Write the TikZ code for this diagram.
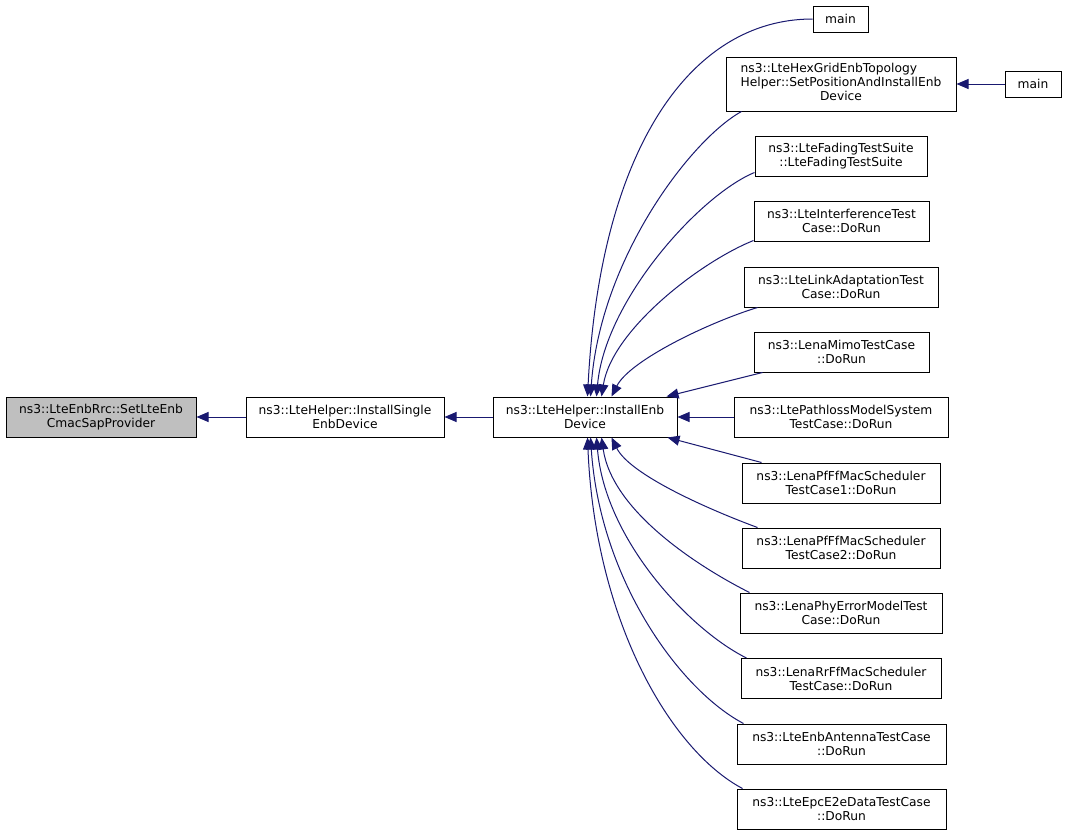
\documentclass[tikz,border=0pt]{standalone}
\usepackage{fontspec}
\setmainfont{DejaVu Sans}
\usetikzlibrary{arrows.meta,calc}
\definecolor{edgeblue}{HTML}{191970}
\definecolor{hl}{HTML}{BFBFBF}
\tikzset{
  box/.style={draw=black, line width=0.75pt, fill=white, inner sep=0pt, align=center,
    font=\fontsize{9.2pt}{10.5pt}\selectfont},
  edge/.style={draw=edgeblue, line width=0.75pt, arrows={Triangle[length=9pt,width=7.5pt]-}},
}
\begin{document}
\begin{tikzpicture}[x=0.75pt,y=-0.75pt]
\useasboundingbox (0,0) rectangle (1067,835);
\fill[white] (0,0) rectangle (1067,835);
\node[box, fill=hl, minimum width=142.5pt, minimum height=30pt] (A) at (101,417) {ns3::LteEnbRrc::SetLteEnb\\CmacSapProvider};
\node[box, minimum width=148.5pt, minimum height=30pt] (B) at (345,417) {ns3::LteHelper::InstallSingle\\EnbDevice};
\node[box, minimum width=138pt, minimum height=30pt] (C) at (585,417) {ns3::LteHelper::InstallEnb\\Device};
\node[box, minimum width=41.25pt, minimum height=19.5pt] (m1) at (840.5,19) {main};
\node[box, minimum width=172.5pt, minimum height=40.5pt] (hex) at (841,84) {\begin{tabular}{@{}l@{}}ns3::LteHexGridEnbTopology\\Helper::SetPositionAndInstallEnb\\\multicolumn{1}{@{}c@{}}{Device}\end{tabular}};
\node[box, minimum width=42pt, minimum height=19.5pt] (m2) at (1033,84) {main};
\node[box, minimum width=129pt, minimum height=30pt] (fad) at (841,156) {ns3::LteFadingTestSuite\\::LteFadingTestSuite};
\node[box, minimum width=131.25pt, minimum height=30pt] (intf) at (841.5,221) {ns3::LteInterferenceTest\\Case::DoRun};
\node[box, minimum width=145.5pt, minimum height=30pt] (link) at (841,287) {ns3::LteLinkAdaptationTest\\Case::DoRun};
\node[box, minimum width=131.25pt, minimum height=30pt] (mimo) at (841.5,352) {ns3::LenaMimoTestCase\\::DoRun};
\node[box, minimum width=160.5pt, minimum height=30pt] (path) at (841,417) {ns3::LtePathlossModelSystem\\TestCase::DoRun};
\node[box, minimum width=148.5pt, minimum height=30pt] (pf1) at (841,483) {ns3::LenaPfFfMacScheduler\\TestCase1::DoRun};
\node[box, minimum width=148.5pt, minimum height=30pt] (pf2) at (841,548) {ns3::LenaPfFfMacScheduler\\TestCase2::DoRun};
\node[box, minimum width=151.5pt, minimum height=30pt] (phy) at (841,613) {ns3::LenaPhyErrorModelTest\\Case::DoRun};
\node[box, minimum width=150pt, minimum height=30pt] (rr) at (841,678.5) {ns3::LenaRrFfMacScheduler\\TestCase::DoRun};
\node[box, minimum width=156.75pt, minimum height=30pt] (ant) at (841.5,744) {ns3::LteEnbAntennaTestCase\\::DoRun};
\node[box, minimum width=156.75pt, minimum height=30pt] (epc) at (841.5,809) {ns3::LteEpcE2eDataTestCase\\::DoRun};
% edges
\draw[edge] (A.east) -- (B.west);
\draw[edge] (B.east) -- (C.west);
\draw[edge] (hex.east) -- (m2.west);
\draw[edge] ($(C.north west)+(95,0)$) .. controls (600,150) and (690,19) .. (m1.west);
\draw[edge] ($(C.north west)+(98,0)$) .. controls (600,260) and (690,140) .. ($(hex.south west)+(16,0)$);
\draw[edge] ($(C.north west)+(104,0)$) .. controls (605,300) and (700,195) .. ($(fad.south west)+(0,-4)$);
\draw[edge] ($(C.north west)+(109,0)$) .. controls (612,330) and (700,262) .. ($(intf.south west)+(0,-1)$);
\draw[edge] ($(C.north west)+(119,0)$) .. controls (630,360) and (710,322) .. ($(link.south west)+(14,0)$);
\draw[edge] ($(C.north west)+(174,0)$) -- ($(mimo.south west)+(9,0)$);
\draw[edge] (C.east) -- (path.west);
\draw[edge] ($(C.south west)+(175,0)$) -- ($(pf1.north west)+(20,0)$);
\draw[edge] ($(C.south west)+(119,0)$) .. controls (630,475) and (710,510) .. ($(pf2.north west)+(16,0)$);
\draw[edge] ($(C.south west)+(109,0)$) .. controls (612,510) and (695,565) .. ($(phy.north west)+(10,0)$);
\draw[edge] ($(C.south west)+(104,0)$) .. controls (605,540) and (690,630) .. ($(rr.north west)+(6,0)$);
\draw[edge] ($(C.south west)+(98,0)$) .. controls (600,580) and (680,690) .. ($(ant.north west)+(7,0)$);
\draw[edge] ($(C.south west)+(95,0)$) .. controls (595,620) and (670,750) .. ($(epc.north west)+(6,0)$);
\end{tikzpicture}
\end{document}
